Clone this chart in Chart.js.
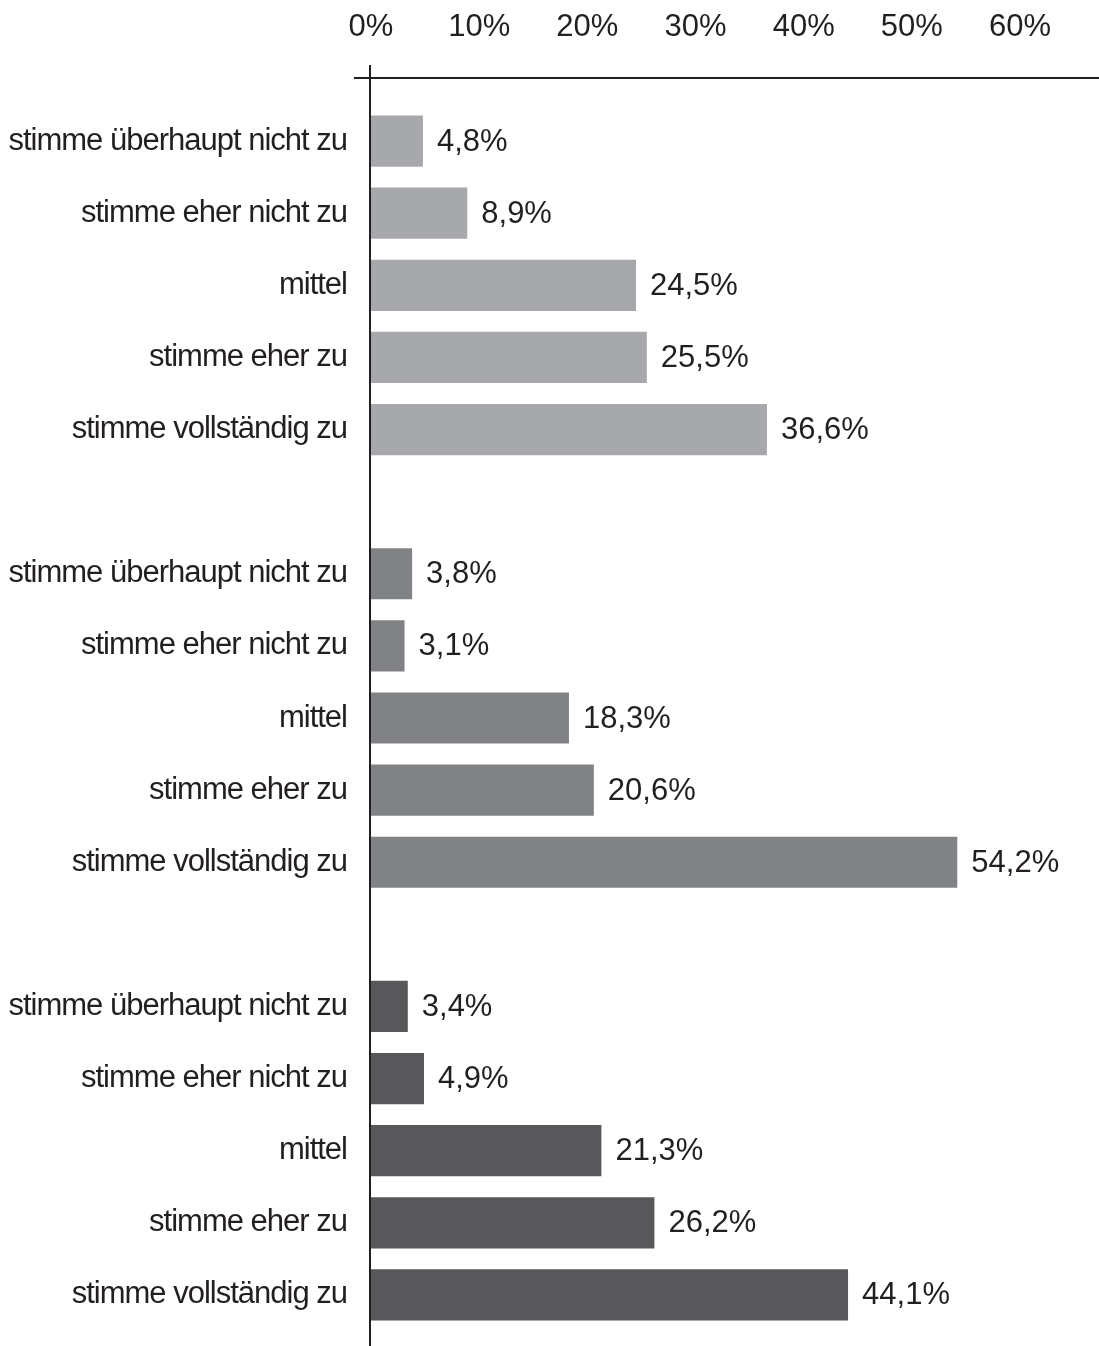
<!DOCTYPE html>
<html>
<head>
<meta charset="utf-8">
<script src="https://cdn.jsdelivr.net/npm/chart.js@4/dist/chart.umd.min.js"></script>
<style>
  html, body { margin: 0; padding: 0; background: #ffffff; }
  #wrap { width: 1099px; height: 1346px; position: relative; }
</style>
</head>
<body>
<div id="wrap"><canvas id="c" width="1099" height="1346"></canvas></div>
<script>
// ---- data ----
const answerLabels = ["stimme überhaupt nicht zu", "stimme eher nicht zu", "mittel", "stimme eher zu", "stimme vollständig zu"];
const group1Values = [4.8, 8.9, 24.5, 25.5, 36.6];
const group2Values = [3.8, 3.1, 18.3, 20.6, 54.2];
const group3Values = [3.4, 4.9, 21.3, 26.2, 44.1];
const groupColors = ["#a7a8ab", "#818285", "#58585a"];
const tickValues = [0, 10, 20, 30, 40, 50, 60];

// build categories with a blank spacer row between groups
const groups = [group1Values, group2Values, group3Values];
const categories = [];
const values = [];
const colors = [];
groups.forEach((g, gi) => {
  if (gi > 0) { categories.push(""); values.push(null); colors.push("rgba(0,0,0,0)"); }
  g.forEach((v, i) => { categories.push(answerLabels[i]); values.push(v); colors.push(groupColors[gi]); });
});

const FONT = "'Liberation Sans', Arial, Helvetica, sans-serif";
const INK = "#231f20";

const axisLines = {
  id: "axisLines",
  afterDraw(chart) {
    const { ctx, chartArea, scales } = chart;
    const x0 = scales.x.getPixelForValue(0) - 1;
    const yTop = chartArea.top - 27;
    ctx.save();
    ctx.strokeStyle = INK;
    ctx.lineWidth = 2;
    ctx.beginPath();
    ctx.moveTo(x0 - 16, yTop);
    ctx.lineTo(chart.width, yTop);
    ctx.moveTo(x0, yTop - 13);
    ctx.lineTo(x0, chart.height);
    ctx.stroke();
    ctx.restore();
  }
};

const valueLabels = {
  id: "valueLabels",
  afterDatasetsDraw(chart) {
    const { ctx } = chart;
    const meta = chart.getDatasetMeta(0);
    ctx.save();
    ctx.fillStyle = INK;
    ctx.font = "31px " + FONT;
    ctx.textAlign = "left";
    ctx.textBaseline = "middle";
    meta.data.forEach((bar, i) => {
      const v = values[i];
      if (v === null || v === undefined) return;
      ctx.fillText(v.toFixed(1).replace(".", ",") + "%", bar.x + 14, bar.y + 1);
    });
    ctx.restore();
  }
};

new Chart(document.getElementById("c"), {
  type: "bar",
  data: {
    labels: categories,
    datasets: [{
      data: values,
      backgroundColor: colors,
      borderWidth: 0,
      categoryPercentage: 1.0,
      barPercentage: 0.71
    }]
  },
  options: {
    indexAxis: "y",
    responsive: false,
    animation: false,
    layout: { padding: { top: 0, right: 0, bottom: 15, left: 0 } },
    plugins: { legend: { display: false }, tooltip: { enabled: false } },
    scales: {
      x: {
        position: "top",
        min: 0,
        max: 67.3,
        grid: { display: false, drawTicks: false },
        border: { display: false },
        afterFit(scale) { scale.height = 105; scale.paddingLeft = 0; scale.paddingRight = 0; },
        afterBuildTicks(scale) { scale.ticks = tickValues.map(v => ({ value: v })); },
        ticks: {
          padding: 59,
          color: INK,
          font: { family: FONT, size: 31 },
          callback: (v) => v + "%"
        }
      },
      y: {
        grid: { display: false, drawTicks: false },
        border: { display: false },
        afterFit(scale) {
          scale.width = 371;
          scale.paddingTop = 0;
          scale.paddingBottom = 0;
          if (!scale._lsPatched) {
            const orig = scale.drawLabels;
            scale.drawLabels = function (area) {
              const ctx = this.ctx;
              ctx.save();
              ctx.letterSpacing = "-1px";
              orig.call(this, area);
              ctx.restore();
            };
            scale._lsPatched = true;
          }
        },
        ticks: {
          padding: 24,
          color: INK,
          font: { family: FONT, size: 31 },
          autoSkip: false
        }
      }
    }
  },
  plugins: [axisLines, valueLabels]
});
</script>
</body>
</html>
